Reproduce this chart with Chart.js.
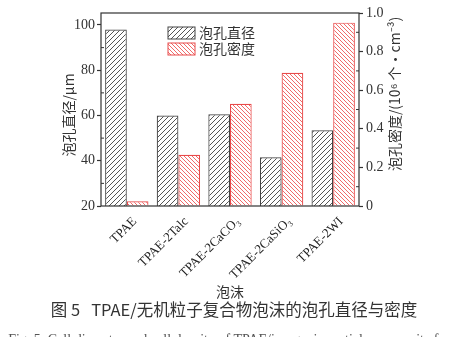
<!DOCTYPE html>
<html>
<head>
<meta charset="utf-8">
<script src="https://cdn.jsdelivr.net/npm/chart.js@4"></script>
<style>
    html, body { margin: 0; padding: 0; background: #fff; width: 476px; height: 337px; overflow: hidden; }
    #wrap { position: relative; width: 476px; height: 337px; overflow: hidden; }
    #chart { position: absolute; left: 0; top: 0; }
    .txt { position: absolute; left: 0; width: 476px; text-align: center; color: #333; white-space: nowrap; }
    #xtitle { top: 281px; left: 230px; width: auto; transform: translateX(-50%); font: 14px "Noto Sans CJK SC"; }
    #caption { top: 297px; left: -4px; font: 16.5px "Noto Sans CJK SC", "Liberation Serif"; }
    #caption2 { top: 332px; font: 14px "Liberation Serif"; color: #555; }
</style>
</head>
<body>
<div id="wrap">
    <canvas id="chart" width="476" height="300"></canvas>
    <div class="txt" id="xtitle">泡沫</div>
    <div class="txt" id="caption">图 5&nbsp;&nbsp;&nbsp;TPAE/无机粒子复合物泡沫的泡孔直径与密度</div>
    <div class="txt" id="caption2">Fig. 5&nbsp;&nbsp;Cell diameter and cell density of TPAE/inorganic particle composite foams</div>
</div>
<script>
const categories = ['TPAE', 'TPAE-2Talc', 'TPAE-2CaCO₃', 'TPAE-2CaSiO₃', 'TPAE-2WI'];
const cellDiameter = [98, 60, 60.5, 41.5, 53.5];   // μm, left axis
const cellDensity = [0.025, 0.265, 0.53, 0.69, 0.95]; // 10^6 个/cm^3, right axis
const leftTicks = [20, 40, 60, 80, 100];
const rightTicks = [0, 0.2, 0.4, 0.6, 0.8, 1.0];

const serif = '"Liberation Serif", "DejaVu Serif", serif';
const cjk = '"Noto Sans CJK SC", sans-serif';

function hatch(size, color, forward) {
    const c = document.createElement('canvas');
    c.width = size;
    c.height = size;
    const g = c.getContext('2d');
    g.fillStyle = '#fff';
    g.fillRect(0, 0, size, size);
    g.strokeStyle = color;
    g.lineWidth = 1;
    g.beginPath();
    if (forward) {
        g.moveTo(-1, size + 1); g.lineTo(size + 1, -1);
        g.moveTo(-1, 1); g.lineTo(1, -1);
        g.moveTo(size - 1, size + 1); g.lineTo(size + 1, size - 1);
    } else {
        g.moveTo(-1, -1); g.lineTo(size + 1, size + 1);
        g.moveTo(size - 1, -1); g.lineTo(size + 1, 1);
        g.moveTo(-1, size - 1); g.lineTo(1, size + 1);
    }
    g.stroke();
    return document.getElementById('chart').getContext('2d').createPattern(c, 'repeat');
}

const grayHatch = hatch(5, '#555', true);
const redHatch = hatch(4, '#f06a6a', false);

// frame, minor ticks, legend and y titles
const decor = {
    id: 'decor',
    afterDraw(chart) {
        const {ctx, chartArea: a, scales} = chart;
        ctx.save();
        ctx.strokeStyle = '#333';
        ctx.lineWidth = 1.2;
        ctx.strokeRect(a.left, a.top, a.right - a.left, a.bottom - a.top);

        // minor ticks pointing inward
        ctx.lineWidth = 1;
        ctx.beginPath();
        for (let v = 30; v < 105; v += 20) {
            const y = scales.y.getPixelForValue(v);
            ctx.moveTo(a.left, y); ctx.lineTo(a.left + 3, y);
        }
        for (let v = 0.1; v < 1; v += 0.2) {
            const y = scales.y2.getPixelForValue(v);
            ctx.moveTo(a.right, y); ctx.lineTo(a.right - 3, y);
        }
        ctx.stroke();

        // legend inside plot
        const items = [
            {label: '泡孔直径', fill: grayHatch, border: '#444'},
            {label: '泡孔密度', fill: redHatch, border: '#e84a4a'}
        ];
        items.forEach((it, i) => {
            const y = 27 + i * 16;
            ctx.fillStyle = it.fill;
            ctx.fillRect(168, y, 27, 12);
            ctx.strokeStyle = it.border;
            ctx.strokeRect(168, y, 27, 12);
            ctx.fillStyle = '#333';
            ctx.font = '14px ' + cjk;
            ctx.textBaseline = 'middle';
            ctx.textAlign = 'left';
            ctx.fillText(it.label, 199, y + 6);
        });

        // left y title
        ctx.fillStyle = '#333';
        ctx.save();
        ctx.translate(69, 115);
        ctx.rotate(-Math.PI / 2);
        ctx.textAlign = 'center';
        ctx.textBaseline = 'middle';
        ctx.font = '14px ' + cjk;
        ctx.fillText('泡孔直径/μm', 0, 0);
        ctx.restore();

        // right y title, reading bottom to top
        ctx.save();
        ctx.translate(395, 94);
        ctx.rotate(-Math.PI / 2);
        ctx.textAlign = 'center';
        ctx.textBaseline = 'middle';
        ctx.font = '14px ' + cjk;
        ctx.fillText('泡孔密度/(10⁶ 个·cm⁻³)', 0, 0);
        ctx.restore();
        ctx.restore();
    }
};

const chart = new Chart(document.getElementById('chart'), {
    type: 'bar',
    data: {
        labels: categories,
        datasets: [{
            label: '泡孔直径',
            data: cellDiameter,
            yAxisID: 'y',
            backgroundColor: grayHatch,
            borderColor: '#444',
            borderWidth: 1.2,
            borderSkipped: 'bottom'
        }, {
            label: '泡孔密度',
            data: cellDensity,
            yAxisID: 'y2',
            backgroundColor: redHatch,
            borderColor: '#e84a4a',
            borderWidth: 1.2,
            borderSkipped: 'bottom'
        }]
    },
    options: {
        responsive: false,
        animation: false,
        layout: {padding: {top: 13, left: 0, right: 0, bottom: 0}},
        datasets: {bar: {barPercentage: 1, categoryPercentage: 0.84}},
        plugins: {
            legend: {display: false},
            tooltip: {enabled: false}
        },
        scales: {
            x: {
                grid: {display: false},
                border: {display: false},
                ticks: {
                    minRotation: 45,
                    maxRotation: 45,
                    padding: 0,
                    labelOffset: 8,
                    color: '#222',
                    font: {family: serif, size: 13}
                },
                afterFit: (s) => { s.height = 94; }
            },
            y: {
                position: 'left',
                min: 20,
                max: 105.3,
                grid: {drawOnChartArea: false, tickLength: 4, color: '#333', tickWidth: 1.2},
                border: {display: false},
                afterBuildTicks: (s) => { s.ticks = leftTicks.map(v => ({value: v})); },
                ticks: {
                    padding: 2,
                    color: '#333',
                    font: {family: serif, size: 14}
                },
                afterFit: (s) => { s.width = 101; }
            },
            y2: {
                position: 'right',
                min: 0,
                max: 1,
                grid: {drawOnChartArea: false, tickLength: 4, color: '#333', tickWidth: 1.2},
                border: {display: false},
                afterBuildTicks: (s) => { s.ticks = rightTicks.map(v => ({value: v})); },
                ticks: {
                    padding: 3,
                    color: '#333',
                    font: {family: serif, size: 14},
                    callback: (v) => v === 0 ? '0' : v.toFixed(1)
                },
                afterFit: (s) => { s.width = 117; }
            }
        }
    },
    plugins: [decor]
});
</script>
</body>
</html>
